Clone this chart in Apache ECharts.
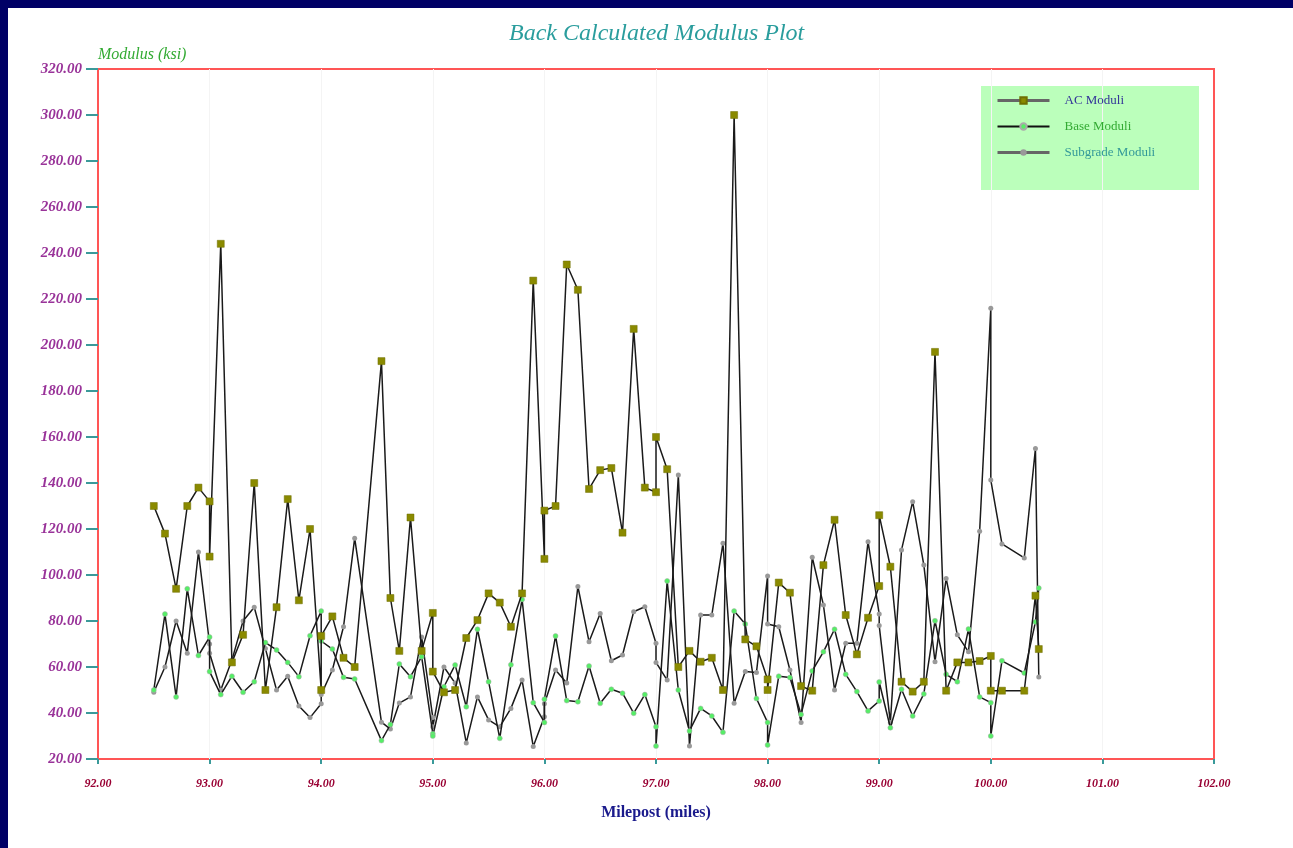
<!DOCTYPE html>
<html>
<head>
<meta charset="utf-8">
<script src="https://cdn.jsdelivr.net/npm/echarts@6/dist/echarts.min.js"></script>
<style>
html,body{margin:0;padding:0;background:#000066;}
#chart{width:1293px;height:848px;}
</style>
</head>
<body>
<div id="chart"></div>
<script>
// Milepost of each test location (section ends repeat)
const mileposts = [
  92.5, 92.6, 92.7, 92.8, 92.9, 93.0,
  93.0, 93.1, 93.2, 93.3, 93.4, 93.5, 93.6, 93.7, 93.8, 93.9, 94.0,
  94.0, 94.1, 94.2, 94.3, 94.54, 94.62, 94.7, 94.8, 94.9, 95.0,
  95.0, 95.1, 95.2, 95.3, 95.4, 95.5, 95.6, 95.7, 95.8, 95.9, 96.0,
  96.0, 96.1, 96.2, 96.3, 96.4, 96.5, 96.6, 96.7, 96.8, 96.9, 97.0,
  97.0, 97.1, 97.2, 97.3, 97.4, 97.5, 97.6, 97.7, 97.8, 97.9, 98.0,
  98.0, 98.1, 98.2, 98.3, 98.4, 98.5, 98.6, 98.7, 98.8, 98.9, 99.0,
  99.0, 99.1, 99.2, 99.3, 99.4, 99.5, 99.6, 99.7, 99.8, 99.9, 100.0,
  100.0, 100.1, 100.3, 100.4, 100.43
];
const acModuli = [
  130, 118, 94, 130, 138, 132,
  108, 244, 62, 74, 140, 50, 86, 133, 89, 120, 50,
  73.5, 82, 64, 60, 193, 90, 67, 125, 67, 83.5,
  58, 49, 50, 72.6, 80.4, 92, 88, 77.5, 92, 228, 107,
  128, 130, 235, 224, 137.4, 145.6, 146.5, 118.4, 207, 138, 136,
  160, 146, 60, 67, 62.3, 64, 50, 300, 72, 69, 54.6,
  50, 96.7, 92.3, 51.7, 49.7, 104.3, 124, 82.6, 65.5, 81.4, 95.2,
  126, 103.6, 53.6, 49.3, 53.6, 197, 49.7, 62, 62, 62.6, 64.8,
  49.7, 49.7, 49.7, 91, 67.8
];
const baseModuli = [
  50, 83, 47, 94, 65, 73,
  58, 48, 56, 49, 53.6, 70.6, 67.4, 62, 55.8, 73.6, 84.3,
  71.3, 67.8, 55.5, 54.8, 28, 35, 61.3, 55.8, 64.5, 31,
  30, 51.4, 60.9, 42.7, 76.4, 53.6, 29, 61, 89.4, 44.5, 35.9,
  46, 73.5, 45.4, 44.9, 60.4, 44.2, 50.3, 48.6, 39.9, 48, 34,
  25.6, 97.4, 50, 32.2, 42, 38.7, 31.6, 84.3, 78.7, 46.3, 35.9,
  26.1, 56, 55.4, 39.4, 58.3, 66.6, 76.4, 56.8, 49.3, 40.9, 45.2,
  53.5, 33.6, 50.3, 38.7, 48.3, 80.1, 56.8, 53.6, 76.5, 47, 44.5,
  30, 62.7, 57.4, 79.6, 94.3
];
const subgradeModuli = [
  49, 60, 80, 66, 110, 70,
  66, 50, 63, 80, 86, 68, 50, 56, 43, 38, 44,
  48, 58.7, 77.5, 116, 36, 33, 44.3, 47, 73, 38,
  34, 60, 53, 27, 47, 37, 34, 42, 54.3, 25.4, 38.4,
  44, 58.7, 53, 95, 71, 83.3, 62.7, 65.2, 84, 86.2, 70.3,
  62, 54.3, 143.5, 25.6, 82.6, 82.6, 113.8, 44.2, 58, 57.6, 99.6,
  78.7, 77.5, 58.7, 35.9, 107.7, 87, 50, 70.3, 70.3, 114.5, 83,
  78, 35.9, 110.9, 131.9, 104.3, 62.3, 98.5, 74, 66.6, 119, 216,
  141.3, 113.5, 107.4, 155, 55.7
];
const seriesNames = ['AC Moduli', 'Base Moduli', 'Subgrade Moduli'];

const serif = 'Liberation Serif';
const chart = echarts.init(document.getElementById('chart'));
const pairs = vals => mileposts.map((m, i) => [m, vals[i]]);

chart.setOption({
  animation: false,
  backgroundColor: '#000066',
  graphic: [
    { type: 'rect', shape: { x: 8, y: 8, width: 1285, height: 840 }, style: { fill: '#ffffff' }, z: -10, silent: true },
    { type: 'rect', shape: { x: 981, y: 86, width: 218, height: 104 }, style: { fill: '#bbffbb' }, z: 0, silent: true }
  ],
  title: {
    text: 'Back Calculated Modulus Plot',
    left: 504, top: 17,
    textStyle: { fontFamily: serif, fontStyle: 'italic', fontWeight: 'normal', fontSize: 24, color: '#2a9d9d' }
  },
  legend: {
    orient: 'vertical', left: 996, top: 94, padding: 0,
    itemWidth: 52, itemHeight: 8, itemGap: 13,
    textStyle: { fontFamily: serif, fontSize: 13, padding: [0, 0, 0, 10] },
    data: [
      { name: seriesNames[0], textStyle: { color: '#333399' }, lineStyle: { color: '#666666', width: 3 } },
      { name: seriesNames[1], textStyle: { color: '#33aa33' }, lineStyle: { color: '#111111', width: 2 } },
      { name: seriesNames[2], textStyle: { color: '#339999' }, lineStyle: { color: '#666666', width: 3 } }
    ]
  },
  grid: {
    left: 98, right: 79, top: 69, bottom: 89,
    show: true, borderColor: '#ff5555', borderWidth: 2, backgroundColor: 'transparent'
  },
  xAxis: {
    type: 'value', min: 92, max: 102, interval: 1,
    name: 'Milepost (miles)', nameLocation: 'middle', nameGap: 46,
    nameTextStyle: { fontFamily: serif, fontWeight: 'bold', fontSize: 16, color: '#1a1a8c' },
    axisLine: { show: false },
    axisTick: { show: true, length: 5, lineStyle: { color: '#3a9a9a', width: 2 } },
    axisLabel: { margin: 19, formatter: v => v.toFixed(2), fontFamily: serif, fontStyle: 'italic', fontWeight: 'bold', fontSize: 12, color: '#990033' },
    splitLine: { show: true, showMinLine: false, showMaxLine: false, lineStyle: { color: '#f4f4f4', width: 1 } }
  },
  yAxis: {
    type: 'value', min: 20, max: 320, interval: 20,
    name: 'Modulus (ksi)', nameLocation: 'end', nameGap: 6,
    nameTextStyle: { fontFamily: serif, fontStyle: 'italic', fontSize: 16, color: '#33aa33', align: 'left' },
    axisLine: { show: false },
    axisTick: { show: true, length: 12, lineStyle: { color: '#3a9a9a', width: 2 } },
    axisLabel: { margin: 16, formatter: v => v.toFixed(2), fontFamily: serif, fontStyle: 'italic', fontWeight: 'bold', fontSize: 15, color: '#993399' },
    splitLine: { show: false }
  },
  series: [
    {
      name: seriesNames[0], type: 'line', data: pairs(acModuli), z: 4,
      symbol: 'rect', symbolSize: 7, showAllSymbol: true,
      itemStyle: { color: '#8a8a00', borderColor: '#6f6f00', borderWidth: 0.5 },
      lineStyle: { color: '#1a1a1a', width: 1.5 }
    },
    {
      name: seriesNames[1], type: 'line', data: pairs(baseModuli), z: 3,
      symbol: 'circle', symbolSize: 5, showAllSymbol: true,
      itemStyle: { color: '#55ee66', borderColor: '#aaaaaa', borderWidth: 0.5 },
      lineStyle: { color: '#1a1a1a', width: 1.5 }
    },
    {
      name: seriesNames[2], type: 'line', data: pairs(subgradeModuli), z: 2,
      symbol: 'circle', symbolSize: 5, showAllSymbol: true,
      itemStyle: { color: '#999999' },
      lineStyle: { color: '#1a1a1a', width: 1.5 }
    }
  ]
});
</script>
</body>
</html>
